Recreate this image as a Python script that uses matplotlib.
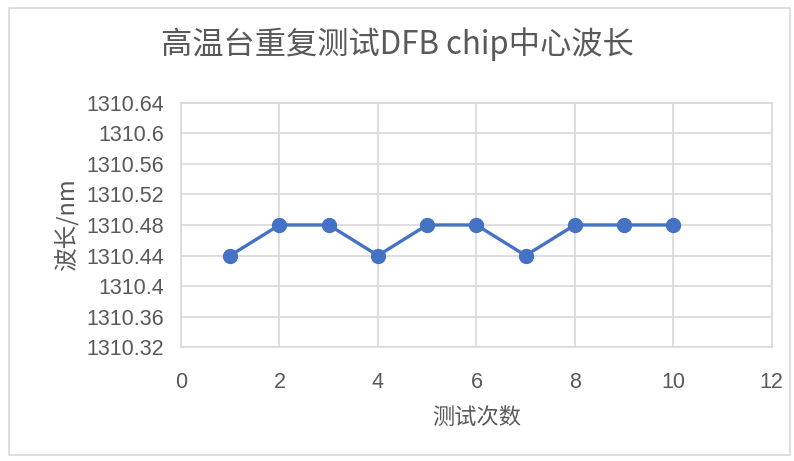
import matplotlib
matplotlib.use('Agg')
import matplotlib.pyplot as plt
from matplotlib.patches import Rectangle

# test number and measured center wavelength (nm)
runs = [1, 2, 3, 4, 5, 6, 7, 8, 9, 10]
wavelength = [1310.44, 1310.48, 1310.48, 1310.44, 1310.48,
              1310.48, 1310.44, 1310.48, 1310.48, 1310.48]
x_ticks = [0, 2, 4, 6, 8, 10, 12]
y_ticks = [1310.32, 1310.36, 1310.40, 1310.44, 1310.48,
           1310.52, 1310.56, 1310.60, 1310.64]
y_labels = ['1310.32', '1310.36', '1310.4', '1310.44', '1310.48',
            '1310.52', '1310.56', '1310.6', '1310.64']

text_color = '#595959'
grid_color = '#D9D9D9'
cjk = ['Noto Sans CJK SC', 'DejaVu Sans']

fig = plt.figure(figsize=(7.94, 4.61), dpi=100)
fig.patches.append(Rectangle((0.011, 0.012), 0.984, 0.97, transform=fig.transFigure,
                             fill=False, edgecolor=grid_color, linewidth=1.2))
ax = fig.add_axes([0.228, 0.247, 0.744, 0.530])

ax.plot(runs, wavelength, color='#4472C4', linewidth=2.4,
        marker='o', markersize=10, zorder=3)

ax.set_xlim(0, 12)
ax.set_ylim(1310.32, 1310.64)
ax.set_xticks(x_ticks)
ax.set_yticks(y_ticks)
ax.set_yticklabels(y_labels)
ax.grid(True, color=grid_color, linewidth=1.2)
ax.set_axisbelow(True)
for s in ax.spines.values():
    s.set_color(grid_color)
    s.set_linewidth(1.2)
ax.tick_params(length=0, labelsize=15.5, labelcolor=text_color)
ax.tick_params(axis='x', pad=18)
ax.tick_params(axis='y', pad=12)
for lab in ax.get_xticklabels() + ax.get_yticklabels():
    lab.set_family(['Liberation Sans', 'DejaVu Sans'])

ax.set_xlabel('测试次数', family=cjk, fontsize=16, color=text_color, labelpad=9)
ax.set_ylabel('波长/nm', family=cjk, fontsize=17, color=text_color, labelpad=5)
fig.text(0.5, 0.905, '高温台重复测试DFB chip中心波长', family=cjk,
         fontsize=22.5, color=text_color, ha='center', va='center')

fig.savefig('out.png', dpi=100)
